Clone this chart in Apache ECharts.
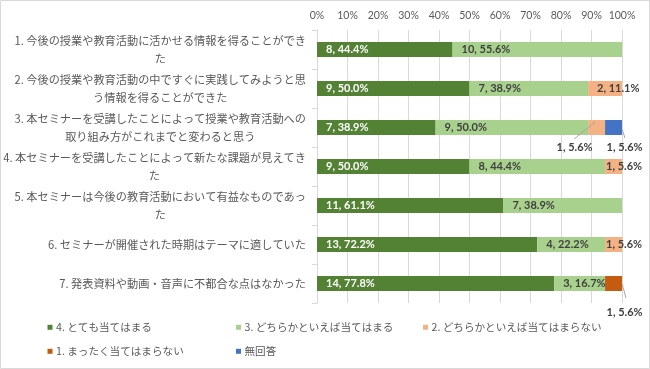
<!DOCTYPE html>
<html><head><meta charset="utf-8">
<script src="https://cdn.jsdelivr.net/npm/echarts@6/dist/echarts.min.js"></script>
<style>html,body{margin:0;padding:0;background:#fff}#c{width:650px;height:369px}</style>
</head><body><div id="c"></div>
<script>
const categories = [
  "1. 今後の授業や教育活動に活かせる情報を得ることができ\nた",
  "2. 今後の授業や教育活動の中ですぐに実践してみようと思\nう情報を得ることができた",
  "3. 本セミナーを受講したことによって授業や教育活動への\n取り組み方がこれまでと変わると思う",
  "4. 本セミナーを受講したことによって新たな課題が見えてき\nた",
  "5. 本セミナーは今後の教育活動において有益なものであっ\nた",
  "6. セミナーが開催された時期はテーマに適していた",
  "7. 発表資料や動画・音声に不都合な点はなかった"
];
const seriesNames = ["4. とても当てはまる","3. どちらかといえば当てはまる","2. どちらかといえば当てはまらない","1. まったく当てはまらない","無回答"];
const s4 = [8, 9, 7, 9, 11, 13, 14];
const s3 = [10, 7, 9, 8, 7, 4, 3];
const s2 = [0, 2, 1, 1, 0, 1, 0];
const s1 = [0, 0, 0, 0, 0, 0, 1];
const sNA = [0, 0, 1, 0, 0, 0, 0];
const tickLabels = ["0%","10%","20%","30%","40%","50%","60%","70%","80%","90%","100%"];

const counts = [s4, s3, s2, s1, sNA];
const colors = ['#548235', '#A9D18E', '#F4B183', '#C55A11', '#4472C4'];
const totals = categories.map((_, i) => counts.reduce((a, s) => a + s[i], 0));
const pct = (si, i) => counts[si][i] / totals[i] * 100;

// label placement tweaks (style only): key = seriesIndex-row
const moved = {
  '2-2': { dx: -22, dy: 2 },
  '4-2': { dx: 11, dy: 2 },
  '3-6': { dx: 11, dy: 11 }
};
const nearLeft = { '2-3': true, '2-5': true };

const labelFont = { fontFamily: 'Lato, "Noto Sans CJK JP"', fontWeight: 'bold', fontSize: 11 };

const series = counts.map((arr, si) => ({
  name: seriesNames[si],
  type: 'bar',
  stack: 'all',
  barWidth: 15,
  itemStyle: { color: colors[si] },
  label: Object.assign({
    show: true,
    position: 'insideLeft',
    distance: 9,
    color: si === 0 ? '#ffffff' : '#404040',
    formatter: p => {
      const c = arr[p.dataIndex];
      return c ? c + ', ' + (c / totals[p.dataIndex] * 100).toFixed(1) + '%' : '';
    }
  }, labelFont),
  labelLayout: p => {
    const m = moved[si + '-' + p.dataIndex];
    return m ? { dx: m.dx, dy: m.dy } : {};
  },
  data: arr.map((c, i) => {
    const item = { value: pct(si, i) };
    const key = si + '-' + i;
    if (moved[key]) item.label = { position: 'bottom', distance: 5 };
    if (nearLeft[key]) item.label = { distance: 1 };
    return item;
  })
}));

const legendPos = [[47.5, 322], [236, 322], [423, 322], [47.5, 346], [236, 346]];
const legends = seriesNames.map((n, k) => ({
  data: [n], left: legendPos[k][0], top: legendPos[k][1], padding: 0,
  itemWidth: 5, itemHeight: 5, icon: 'rect',
  textStyle: { color: '#595959', fontSize: 10.6, fontFamily: '"Noto Sans CJK JP"', padding: [0, 0, 0, -1.5] }
}));

const chart = echarts.init(document.getElementById('c'), null, { renderer: 'canvas' });
chart.setOption({
  animation: false,
  textStyle: { fontFamily: '"Noto Sans CJK JP", sans-serif' },
  grid: { left: 317, right: 28, top: 30, bottom: 66 },
  xAxis: {
    type: 'value', position: 'top', min: 0, max: 100, interval: 10,
    axisLine: { show: false }, axisTick: { show: false },
    splitLine: { show: true, lineStyle: { color: '#d9d9d9', width: 1 } },
    axisLabel: {
      margin: 9, color: '#595959', fontSize: 10.5, fontFamily: 'Lato, sans-serif',
      formatter: (v) => tickLabels[Math.round(v / 10)]
    }
  },
  yAxis: {
    type: 'category', data: categories, inverse: true,
    axisLine: { show: true, lineStyle: { color: '#d9d9d9' } },
    axisTick: { show: true, length: 5, lineStyle: { color: '#d9d9d9' } },
    axisLabel: {
      margin: 11, color: '#595959',
      formatter: v => v.split('\n').map(l => '{c|' + l + '}').join('\n'),
      rich: { c: { align: 'center', fontSize: 11.2, lineHeight: 17.5, color: '#595959', fontFamily: '"Noto Sans CJK JP"' } }
    }
  },
  legend: legends,
  series
});

// leader lines, positioned from the chart's own scales
function cum(si, i) { let s = 0; for (let k = 0; k < si; k++) s += pct(k, i); return s; }
function px(v, i) { return chart.convertToPixel({ gridIndex: 0 }, [v, i]); }
const lines = [];
(function () { // row 3, orange segment, label below-left
  const i = 2, si = 2;
  const a = px(cum(si, i), i);
  lines.push([[a[0] + 7, a[1] - 5.5], [a[0] - 14, a[1] + 11.5]]);
})();
(function () { // row 3, blue segment, label below-right
  const i = 2, si = 4;
  const b = px(cum(si + 1, i), i);
  lines.push([[b[0], b[1] + 1.5], [b[0] + 3, b[1] + 10.5]]);
})();
(function () { // row 7, dark orange segment, label below-right
  const i = 6, si = 3;
  const b = px(cum(si + 1, i), i);
  lines.push([[b[0], b[1]], [b[0] + 4, b[1] + 14.5]]);
})();
chart.setOption({
  graphic: [{
    type: 'rect', silent: true, z: -10,
    shape: { x: 0.5, y: 0.5, width: 649, height: 368 },
    style: { fill: 'none', stroke: '#d9d9d9', lineWidth: 1 }
  }].concat(lines.map(l => ({
    type: 'line', silent: true, z: 100,
    shape: { x1: l[0][0], y1: l[0][1], x2: l[1][0], y2: l[1][1] },
    style: { stroke: '#a6a6a6', lineWidth: 1 }
  })))
});
</script></body></html>
